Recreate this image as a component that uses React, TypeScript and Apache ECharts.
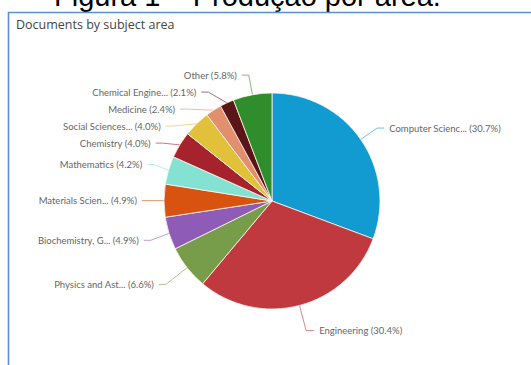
import React, { useEffect, useRef } from "react";
import * as echarts from "echarts";

const categories = [
  "Computer Scienc...",
  "Engineering",
  "Physics and Ast...",
  "Biochemistry, G...",
  "Materials Scien...",
  "Mathematics",
  "Chemistry",
  "Social Sciences...",
  "Medicine",
  "Chemical Engine...",
  "Other",
];
const shares = [30.7, 30.4, 6.6, 4.9, 4.9, 4.2, 4.0, 4.0, 2.4, 2.1, 5.8];
const colors = [
  "#119bd0",
  "#bf393f",
  "#789d4a",
  "#8e5cb6",
  "#d8530f",
  "#84e2d3",
  "#a6222c",
  "#e1c03a",
  "#e28f6e",
  "#5a1519",
  "#2f8e2b",
];
const pageTitle = "Figura 1 – Produção por área.";
const chartTitle = "Documents by subject area";

const lineLengthOverrides: Record<number, { length: number; length2: number }> = {
  1: { length: 26, length2: 8 },
  2: { length: 27, length2: 7 },
  3: { length: 23, length2: 7 },
};

export default function App() {
  const ref = useRef<HTMLDivElement>(null);
  useEffect(() => {
    if (!ref.current) return;
    const chart = echarts.init(ref.current, null, { renderer: "svg" });
    chart.setOption({
      animation: false,
      backgroundColor: "#ffffff",
      graphic: [
        {
          type: "text",
          left: 54,
          top: -19,
          style: {
            text: pageTitle,
            font: '29px "Liberation Sans", Arial, sans-serif',
            fill: "#000000",
          },
          z: 10,
        },
        {
          type: "rect",
          shape: { x: 8.5, y: 12.5, width: 600, height: 400 },
          style: { fill: "none", stroke: "#5d8fd2", lineWidth: 1.6 },
          z: 10,
        },
        {
          type: "text",
          left: 16,
          top: 18,
          style: {
            text: chartTitle,
            font: '12.5px "Open Sans", sans-serif',
            fill: "#444444",
          },
          z: 10,
        },
      ],
      series: [
        {
          type: "pie",
          center: [272, 201],
          radius: 108,
          startAngle: 90,
          clockwise: true,
          avoidLabelOverlap: true,
          data: categories.map((name, i) => ({
            name,
            value: shares[i],
            itemStyle: { color: colors[i] },
            ...(lineLengthOverrides[i] ? { labelLine: lineLengthOverrides[i] } : {}),
          })),
          itemStyle: { borderColor: "#fff6ee", borderWidth: 0.8 },
          label: {
            show: true,
            position: "outside",
            formatter: (p: any) => `${p.name} (${Number(p.value).toFixed(1)}%)`,
            color: "#666666",
            fontSize: 9.5,
            lineHeight: 15,
            fontFamily: "Lato, sans-serif",
          },
          labelLine: {
            show: true,
            length: 20,
            length2: 7,
            smooth: false,
            lineStyle: { width: 1, opacity: 0.6 },
          },
          emphasis: { disabled: true },
        },
      ],
    });
    return () => chart.dispose();
  }, []);
  return (
    <div
      ref={ref}
      style={{ position: "fixed", left: 0, top: 0, width: 531, height: 365 }}
    />
  );
}
